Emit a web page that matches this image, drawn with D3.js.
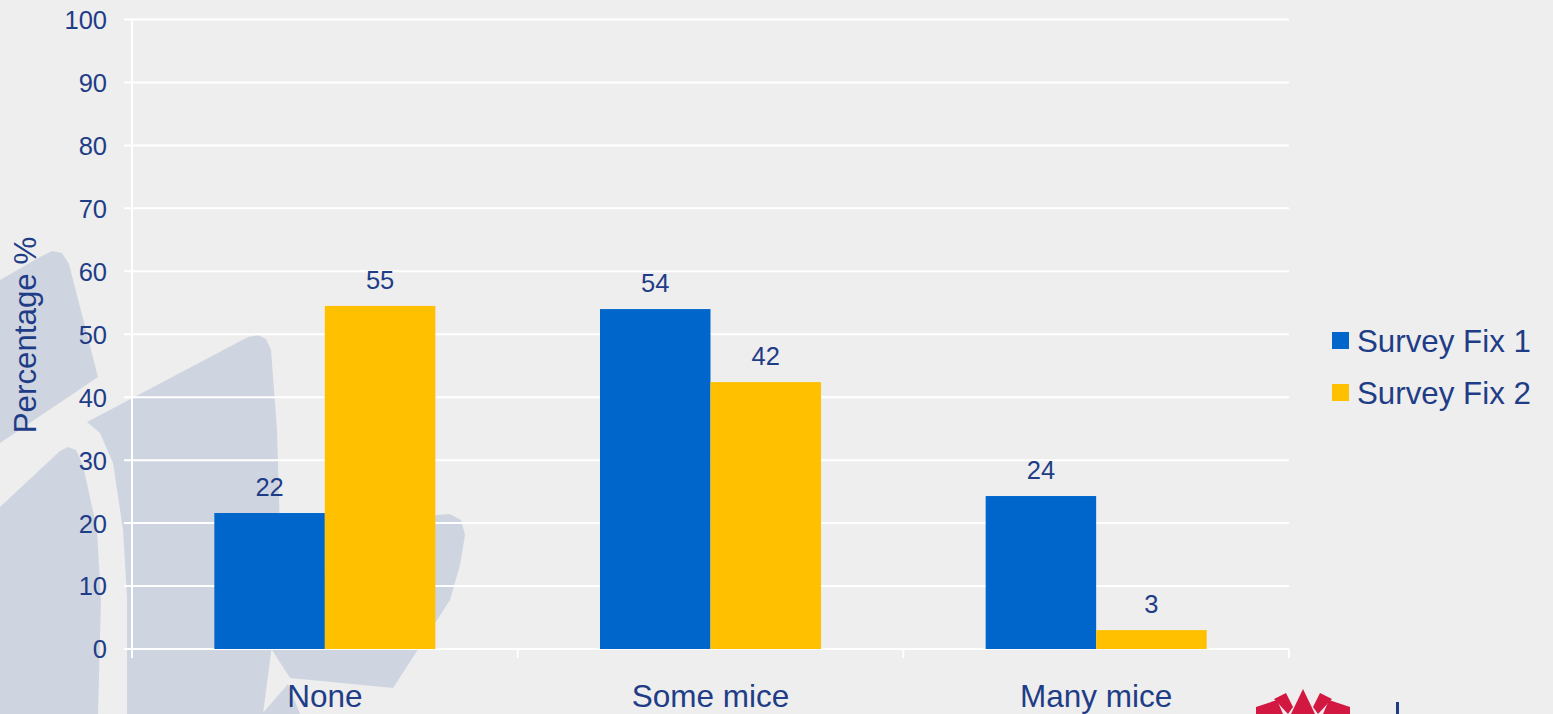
<!DOCTYPE html>
<html>
<head>
<meta charset="utf-8">
<script src="https://cdn.jsdelivr.net/npm/d3@7"></script>
<style>
  html, body { margin: 0; padding: 0; background: #eeeeee; }
  svg { display: block; }
  text { font-family: "Liberation Sans", Arial, sans-serif; fill: #1f3d87; }
</style>
</head>
<body>
<svg id="chart" width="1553" height="714"></svg>
<script>
// ---- data ----
const categories = ["None", "Some mice", "Many mice"];
const seriesNames = ["Survey Fix 1", "Survey Fix 2"];
const fix1Values = [21.6, 54.0, 24.3];
const fix2Values = [54.5, 42.4, 3.0];
const fix1Labels = ["22", "54", "24"];
const fix2Labels = ["55", "42", "3"];
const yTicks = [0, 10, 20, 30, 40, 50, 60, 70, 80, 90, 100];
const seriesColors = ["#0066cc", "#ffc000"];

(function () {
const svg = d3.select("#chart");
const W = 1553, H = 714;
const plotLeft = 132, plotRight = 1289, plotTop = 19.5, plotBottom = 649;

svg.append("rect").attr("width", W).attr("height", H).attr("fill", "#eeeeee");

// ---- decorative watermark petals ----
const petals = [
  [[0,280],[40,257],[52,251],[62,253],[69,264],[98,377],[0,443]],
  [[0,507],[60,451],[68,447],[76,450],[83,465],[97,530],[101,600],[98,714],[0,714]],
  [[87,422],[248,337],[258,335],[266,339],[271,350],[277,430],[280,530],[274,630],[263,714],[127,714],[127,597],[123,530],[113,463],[100,433]],
  [[272,650],[345,545],[436,515],[450,514],[461,520],[465,535],[460,565],[450,600],[393,688],[290,678]],
  [[288,684],[300,714],[262,714]]
];
const petalLine = d3.line().curve(d3.curveLinearClosed);
svg.append("g").selectAll("path").data(petals).join("path")
  .attr("d", d => petalLine(d)).attr("fill", "#cfd5e0");

// ---- logo (partial, bottom right) ----
const logo = [
  [[1256,714],[1256,707],[1277,700],[1283,714]],
  [[1274,699],[1286,693],[1293,707],[1288,714]],
  [[1291,714],[1303,689],[1315,714]],
  [[1318,714],[1313,707],[1320,693],[1332,699]],
  [[1323,714],[1329,700],[1350,707],[1350,714]]
];
svg.append("g").selectAll("path").data(logo).join("path")
  .attr("d", d => petalLine(d)).attr("fill", "#d21741");
svg.append("rect").attr("x", 1396).attr("y", 702).attr("width", 3).attr("height", 12).attr("fill", "#1f3d87");

// ---- scales ----
const x0 = d3.scaleBand().domain(categories).range([plotLeft, plotRight]).paddingInner(0.427).paddingOuter(0.2135);
const x1 = d3.scaleBand().domain(seriesNames).range([0, x0.bandwidth()]);
const y = d3.scaleLinear().domain([0, 100]).range([plotBottom, plotTop]);
const color = d3.scaleOrdinal().domain(seriesNames).range(seriesColors);

// ---- gridlines ----
svg.append("g").selectAll("line").data(yTicks).join("line")
  .attr("x1", plotLeft - 8).attr("x2", plotRight)
  .attr("y1", d => y(d)).attr("y2", d => y(d))
  .attr("stroke", "#ffffff").attr("stroke-width", 2);

// vertical axis line
svg.append("line").attr("x1", plotLeft).attr("x2", plotLeft).attr("y1", plotTop).attr("y2", plotBottom + 9)
  .attr("stroke", "#ffffff").attr("stroke-width", 2);

// category boundary ticks
const step = x0.step();
const boundaries = d3.range(1, categories.length + 1).map(i => plotLeft + i * step);
svg.append("g").selectAll("line").data(boundaries).join("line")
  .attr("x1", d => d).attr("x2", d => d).attr("y1", plotBottom).attr("y2", plotBottom + 9)
  .attr("stroke", "#ffffff").attr("stroke-width", 2);

// ---- y axis tick labels ----
const yAxis = d3.axisLeft(y).tickValues(yTicks).tickSize(0).tickPadding(0);
const yg = svg.append("g").attr("transform", `translate(107,0)`).call(yAxis);
yg.select(".domain").remove();
yg.selectAll("text").attr("font-size", "25.5px").attr("fill", "#1f3d87").attr("dy", "0.35em");
yg.attr("font-family", null).attr("font-size", null);

// ---- x axis labels ----
const xAxis = d3.axisBottom(x0).tickSize(0).tickPadding(0);
const xg = svg.append("g").attr("transform", `translate(0,${plotBottom})`).call(xAxis);
xg.select(".domain").remove();
xg.selectAll("text").attr("font-size", "31.5px").attr("fill", "#1f3d87")
  .attr("dy", null).attr("y", 58);
xg.attr("font-family", null).attr("font-size", null);

// ---- bars ----
const rows = categories.map((c, i) => ({
  cat: c,
  vals: [
    { s: seriesNames[0], v: fix1Values[i], label: fix1Labels[i] },
    { s: seriesNames[1], v: fix2Values[i], label: fix2Labels[i] }
  ]
}));
const groups = svg.append("g").selectAll("g").data(rows).join("g")
  .attr("transform", d => `translate(${x0(d.cat)},0)`);
groups.selectAll("rect").data(d => d.vals).join("rect")
  .attr("x", d => x1(d.s)).attr("width", x1.bandwidth())
  .attr("y", d => y(d.v)).attr("height", d => y(0) - y(d.v))
  .attr("fill", d => color(d.s));
groups.selectAll("text").data(d => d.vals).join("text")
  .attr("x", d => x1(d.s) + x1.bandwidth() / 2)
  .attr("y", d => y(d.v) - 17)
  .attr("text-anchor", "middle").attr("font-size", "25.5px")
  .text(d => d.label);

// ---- y title ----
svg.append("text").attr("transform", "translate(36,335) rotate(-90)")
  .attr("text-anchor", "middle").attr("font-size", "31.3px").text("Percentage %");

// ---- legend ----
const legend = svg.append("g").selectAll("g").data(seriesNames).join("g")
  .attr("transform", (d, i) => `translate(1332,${332 + i * 52})`);
legend.append("rect").attr("width", 17).attr("height", 17).attr("fill", d => color(d));
legend.append("text").attr("x", 25).attr("y", 20).attr("font-size", "31.3px").text(d => d);
})();
</script>
</body>
</html>
